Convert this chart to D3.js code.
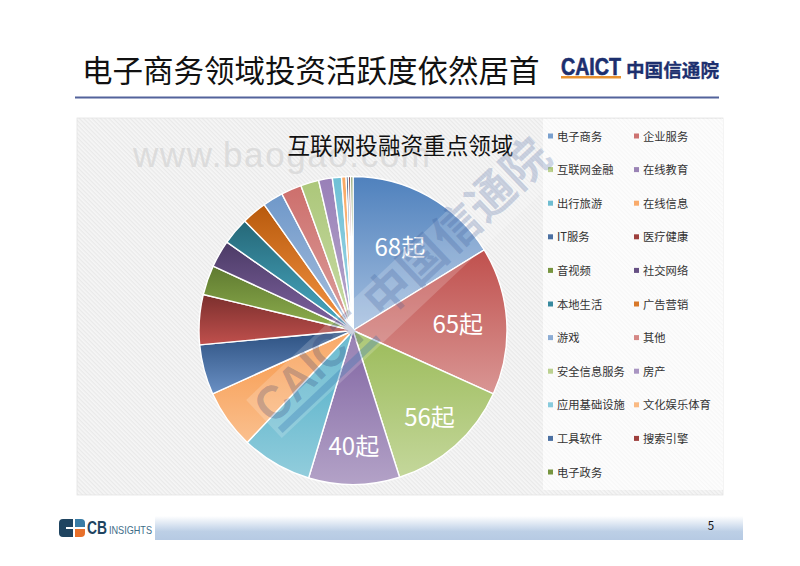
<!DOCTYPE html>
<html>
<head>
<meta charset="utf-8">
<script src="https://cdn.jsdelivr.net/npm/d3@7"></script>
<style>
  html, body { margin: 0; padding: 0; background: #fff; }
  svg { display: block; }
  text { font-family: "Noto Sans CJK SC", "Noto Sans", sans-serif; }
</style>
</head>
<body>
<svg id="chart" width="800" height="566"></svg>
<script>
const categories = ["电子商务", "企业服务", "互联网金融", "在线教育", "出行旅游", "在线信息", "IT服务",
  "医疗健康", "音视频", "社交网络", "本地生活", "广告营销", "游戏", "其他", "安全信息服务", "房产",
  "应用基础设施", "文化娱乐体育", "工具软件", "搜索引擎", "电子政务"];
const values = [68, 65, 56, 40, 31, 26, 22, 22, 13, 12, 12, 11, 9, 9, 8, 6, 4, 2, 1, 1, 1];
const labelled = ["68起", "65起", "56起", "40起"];

const topColors = ["#4f81bd", "#c0504d", "#9bbb59", "#8064a2", "#4bacc6", "#f79646",
  "#2c5080", "#7b2f2d", "#5f7a30", "#4c3b66", "#256878", "#b85a0c",
  "#6f98c9", "#cd6f6c", "#acc77a", "#9980b8", "#6fc0d6", "#f9a862",
  "#2c5080", "#7b2f2d", "#5f7a30"];
const bottomColors = ["#a5bfdf", "#d99694", "#c4d79b", "#b3a2c7", "#92cddc", "#fac08f",
  "#6a90c4", "#c0504d", "#8fb04f", "#8064a2", "#4bacc6", "#f79646",
  "#a9c0de", "#dca09e", "#c9dba6", "#b8a9cc", "#a0d6e4", "#fbcba3",
  "#6a90c4", "#c0504d", "#8fb04f"];

const svg = d3.select("#chart");
const defs = svg.append("defs");

// hatched panel backgrounds
function hatch(id, bg, line) {
  const p = defs.append("pattern").attr("id", id).attr("width", 3).attr("height", 3)
    .attr("patternUnits", "userSpaceOnUse").attr("patternTransform", "rotate(45)");
  p.append("rect").attr("width", 3).attr("height", 3).attr("fill", bg);
  p.append("rect").attr("width", 3).attr("height", 1.3).attr("fill", line);
}
hatch("panelHatch", "#f6f6f6", "#e9e9e9");
hatch("legendHatch", "#fdfdfd", "#f7f7f7");

values.forEach((v, i) => {
  const g = defs.append("linearGradient").attr("id", "slice" + i)
    .attr("x1", 0).attr("y1", 0).attr("x2", 0).attr("y2", 1);
  g.append("stop").attr("offset", "0%").attr("stop-color", topColors[i]);
  g.append("stop").attr("offset", "100%").attr("stop-color", bottomColors[i]);
});

const barGrad = defs.append("linearGradient").attr("id", "footerBar")
  .attr("x1", 0).attr("y1", 0).attr("x2", 0).attr("y2", 1);
barGrad.append("stop").attr("offset", "0%").attr("stop-color", "#ffffff");
barGrad.append("stop").attr("offset", "65%").attr("stop-color", "#bccfe6");
barGrad.append("stop").attr("offset", "100%").attr("stop-color", "#b6cae3");

// page header
svg.append("text").attr("x", 82).attr("y", 82).attr("font-size", 30.5).attr("fill", "#111")
  .text("电子商务领域投资活跃度依然居首");
svg.append("rect").attr("x", 75).attr("y", 96.5).attr("width", 644).attr("height", 2).attr("fill", "#53639b");

const logo = svg.append("g");
logo.append("text").attr("x", 561).attr("y", 75).attr("font-size", 23).attr("font-weight", 700)
  .style("font-family", "Liberation Sans").attr("textLength", 60).attr("lengthAdjust", "spacingAndGlyphs")
  .attr("fill", "#1c2f6e").attr("stroke", "#1c2f6e").attr("stroke-width", 0.6).text("CAICT");
logo.append("rect").attr("x", 561).attr("y", 76).attr("width", 60).attr("height", 2.5).attr("fill", "#e8912f");
logo.append("text").attr("x", 626).attr("y", 77).attr("font-size", 18.6).attr("font-weight", 700)
  .attr("fill", "#1c2f6e").attr("stroke", "#1c2f6e").attr("stroke-width", 0.3).text("中国信通院");

// chart panel
svg.append("rect").attr("x", 77).attr("y", 118).attr("width", 646).attr("height", 377)
  .attr("fill", "url(#panelHatch)").attr("stroke", "#e4e4e4").attr("stroke-width", 0.8);
svg.append("rect").attr("x", 543).attr("y", 119).attr("width", 180).attr("height", 371)
  .attr("fill", "url(#legendHatch)");

svg.append("text").attr("x", 133).attr("y", 167).attr("font-size", 35)
  .style("font-family", "Liberation Sans").attr("textLength", 297)
  .attr("fill", "#dcdcdc").text("www.baogao.com");

svg.append("text").attr("x", 400.5).attr("y", 154).attr("text-anchor", "middle")
  .attr("font-size", 22.6).attr("fill", "#111").text("互联网投融资重点领域");

// pie
const cx = 353, cy = 330.5, radius = 154;
const pie = d3.pie().sort(null).value(d => d)(values);
const arc = d3.arc().innerRadius(0).outerRadius(radius);
const pieG = svg.append("g").attr("transform", `translate(${cx},${cy})`);

pieG.selectAll("path").data(pie).join("path")
  .attr("d", arc)
  .attr("fill", (d, i) => `url(#slice${i})`)
  .attr("stroke", "#fff").attr("stroke-width", 1.4).attr("stroke-linejoin", "round");

const labelRadius = [96, 105, 115, 115];
labelled.forEach((t, i) => {
  const mid = (pie[i].startAngle + pie[i].endAngle) / 2;
  pieG.append("text")
    .attr("x", Math.sin(mid) * labelRadius[i])
    .attr("y", -Math.cos(mid) * labelRadius[i] + 9.5)
    .attr("text-anchor", "middle").attr("font-size", 24).attr("fill", "#fff").text(t);
});

// legend
const legendRow = d3.scalePoint().domain(d3.range(11)).range([136.5, 472.5]);
const legendCol = [548, 634];
categories.forEach((c, i) => {
  const col = i % 2, row = Math.floor(i / 2);
  const y = legendRow(row);
  svg.append("rect").attr("x", legendCol[col]).attr("y", y - 3).attr("width", 5).attr("height", 5)
    .attr("fill", d3.interpolateRgb(topColors[i], bottomColors[i])(0.5));
  svg.append("text").attr("x", legendCol[col] + 9).attr("y", y + 4).attr("font-size", 11.3)
    .attr("fill", "#333").text(c);
});

// diagonal watermark
const mark = svg.append("g").attr("transform", "translate(270,405) rotate(-43.3)");
mark.append("rect").attr("x", -14).attr("y", -20).attr("width", 380).attr("height", 52)
  .attr("fill", "#fff").attr("opacity", 0.18);
mark.append("text").attr("x", -12).attr("y", 17).attr("font-size", 48).attr("font-weight", 700)
  .style("font-family", "Liberation Sans").attr("textLength", 135).attr("lengthAdjust", "spacingAndGlyphs")
  .attr("fill", "#1c2f6e").attr("fill-opacity", 0.24).text("CAICT");
mark.append("rect").attr("x", -10).attr("y", 22).attr("width", 135).attr("height", 7)
  .attr("fill", "#2a6fb0").attr("opacity", 0.3);
mark.append("text").attr("x", 140).attr("y", 16).attr("font-size", 47).attr("font-weight", 700)
  .attr("fill", "#2f4f92").attr("fill-opacity", 0.22).text("中国信通院");

// footer
svg.append("rect").attr("x", 155).attr("y", 516).attr("width", 588).attr("height", 24).attr("fill", "url(#footerBar)");
const cb = svg.append("g").attr("transform", "translate(59,519)");
cb.append("path").attr("d", "M4,0H14V8H7V10H14V18H4Q0,18 0,14V4Q0,0 4,0Z").attr("fill", "#1f4460");
cb.append("path").attr("d", "M16,0H22Q26,0 26,4V8H16Z").attr("fill", "#3a7ca5");
cb.append("path").attr("d", "M16,10H26V14Q26,18 22,18H16Z").attr("fill", "#e8702a");
cb.append("text").attr("x", 28).attr("y", 15).attr("font-size", 18).attr("font-weight", 700)
  .style("font-family", "Liberation Sans").attr("textLength", 20).attr("lengthAdjust", "spacingAndGlyphs")
  .attr("fill", "#1f4460").text("CB");
cb.append("text").attr("x", 50).attr("y", 15).attr("font-size", 11.5)
  .style("font-family", "Liberation Sans").attr("textLength", 43).attr("lengthAdjust", "spacingAndGlyphs")
  .attr("fill", "#3d6d88").text("INSIGHTS");
svg.append("text").attr("x", 711).attr("y", 530).attr("text-anchor", "middle").attr("font-size", 11.5)
  .attr("fill", "#111").text("5");
</script>
</body>
</html>
